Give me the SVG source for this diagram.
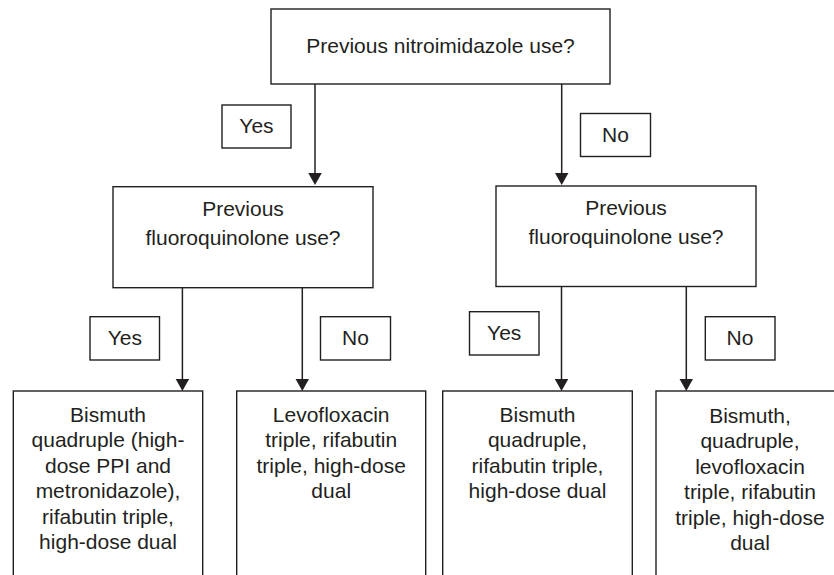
<svg xmlns="http://www.w3.org/2000/svg" width="834" height="575" viewBox="0 0 834 575">
<defs>
<style>
.box{fill:#ffffff;stroke:#231f20;stroke-width:1.4}
.lbl{fill:#ffffff;stroke:#231f20;stroke-width:1.4}
.t{font-family:"Liberation Sans",Arial,sans-serif;font-size:21px;fill:#231f20;text-anchor:middle}
.c{fill:none;stroke:#231f20;stroke-width:1.5}
</style>
<marker id="arr" markerUnits="userSpaceOnUse" markerWidth="14" markerHeight="14" refX="10" refY="7" orient="auto">
<path d="M0,0 L12.5,7 L0,14 Z" fill="#231f20"/>
</marker>
</defs>
<rect width="834" height="575" fill="#ffffff"/>
<g id="connectors">
<path class="c" d="M315,84 V182.5" marker-end="url(#arr)"/>
<path class="c" d="M561.7,84 V182.5" marker-end="url(#arr)"/>
<path class="c" d="M182.4,288 V388.5" marker-end="url(#arr)"/>
<path class="c" d="M302.3,288 V388.5" marker-end="url(#arr)"/>
<path class="c" d="M561.5,286.5 V388.5" marker-end="url(#arr)"/>
<path class="c" d="M686.3,286.5 V388.5" marker-end="url(#arr)"/>
</g>
<g id="n-top">
<rect class="box" x="271" y="9" width="339" height="75"/>
<text class="t" x="440.5" y="53">Previous nitroimidazole use?</text>
</g>
<g id="l-yes1">
<rect class="lbl" x="222" y="105" width="69" height="43"/>
<text class="t" x="256.5" y="133.3">Yes</text>
</g>
<g id="l-no1">
<rect class="lbl" x="580.5" y="113.5" width="70" height="43"/>
<text class="t" x="615.5" y="142.3">No</text>
</g>
<g id="n-fq-left">
<rect class="box" x="113" y="186.7" width="260" height="101"/>
<text class="t" x="243" y="215.5">Previous</text>
<text class="t" x="243" y="245">fluoroquinolone use?</text>
</g>
<g id="n-fq-right">
<rect class="box" x="496" y="186" width="260" height="100.5"/>
<text class="t" x="626" y="215">Previous</text>
<text class="t" x="626" y="244.3">fluoroquinolone use?</text>
</g>
<g id="l-yes2">
<rect class="lbl" x="90" y="316.7" width="69.5" height="43.3"/>
<text class="t" x="124.8" y="345">Yes</text>
</g>
<g id="l-no2">
<rect class="lbl" x="320.5" y="316.7" width="70" height="43.3"/>
<text class="t" x="355.5" y="345">No</text>
</g>
<g id="l-yes3">
<rect class="lbl" x="469.5" y="311.7" width="69.5" height="43.3"/>
<text class="t" x="504.2" y="340">Yes</text>
</g>
<g id="l-no3">
<rect class="lbl" x="705.3" y="316.7" width="69.7" height="43.3"/>
<text class="t" x="740" y="345">No</text>
</g>
<g id="n-r1">
<rect class="box" x="13.3" y="391" width="189.4" height="200"/>
<text class="t" x="108" y="421.5">Bismuth</text>
<text class="t" x="108" y="447">quadruple (high-</text>
<text class="t" x="108" y="472.5">dose PPI and</text>
<text class="t" x="108" y="498">metronidazole),</text>
<text class="t" x="108" y="523.5">rifabutin triple,</text>
<text class="t" x="108" y="549">high-dose dual</text>
</g>
<g id="n-r2">
<rect class="box" x="236.7" y="391" width="189" height="200"/>
<text class="t" x="331.2" y="421.5">Levofloxacin</text>
<text class="t" x="331.2" y="447">triple, rifabutin</text>
<text class="t" x="331.2" y="472.5">triple, high-dose</text>
<text class="t" x="331.2" y="498">dual</text>
</g>
<g id="n-r3">
<rect class="box" x="442.7" y="391" width="189.6" height="200"/>
<text class="t" x="537.5" y="421.5">Bismuth</text>
<text class="t" x="537.5" y="447">quadruple,</text>
<text class="t" x="537.5" y="472.5">rifabutin triple,</text>
<text class="t" x="537.5" y="498">high-dose dual</text>
</g>
<g id="n-r4">
<rect class="box" x="656" y="391" width="190" height="200"/>
<text class="t" x="750" y="422.5">Bismuth,</text>
<text class="t" x="750" y="448">quadruple,</text>
<text class="t" x="750" y="473.5">levofloxacin</text>
<text class="t" x="750" y="499">triple, rifabutin</text>
<text class="t" x="750" y="524.5">triple, high-dose</text>
<text class="t" x="750" y="550">dual</text>
</g>
</svg>
